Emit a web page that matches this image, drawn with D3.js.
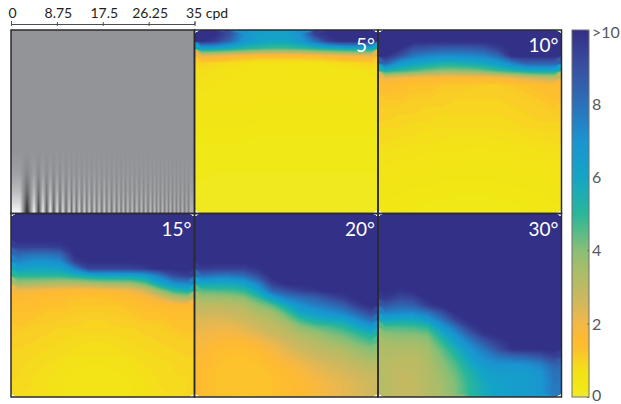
<!DOCTYPE html>
<html>
<head>
<meta charset="utf-8">
<script src="https://cdn.jsdelivr.net/npm/d3@7"></script>
<style>
body { margin: 0; background: #fff; }
text { font-family: Lato, "Noto Sans", sans-serif; }
</style>
</head>
<body>
<div id="chart"></div>
<script>
const cpdTicks = [0, 8.75, 17.5, 26.25, 35]
const cpdLabels = ['0', '8.75', '17.5', '26.25', '35 cpd']
const barTicks = [0, 2, 4, 6, 8, 10]
const barLabels = ['0', '2', '4', '6', '8', '>10']
const panelLabels = ['5°', '10°', '15°', '20°', '30°']

// colour map
const cmapValues = [0, 0.3, 0.7, 1, 1.3, 1.6, 2, 2.6, 3.5, 4, 5, 6, 7, 8, 9, 10]
const cmapColors = ['#efe92c', '#f1e814', '#f3e118', '#f8d223', '#fdc02d', '#feba32', '#f2b848', '#cfb85e', '#a6bd6a',
    '#88bf76', '#28b79a', '#14a5c6', '#1b93d0', '#2c70b9', '#394fa0', '#332e86']

// grating: bright bar positions (cpd) and their strength at the bottom edge
const gratingPeaks = [1.7, 4.4, 6.1, 7.5, 8.8, 9.9, 11.1, 12.0, 13.0, 14.0, 14.9, 15.9, 16.8, 17.8, 18.7, 19.7, 20.6,
    21.4, 22.3, 23.1, 24.0, 24.9, 25.7, 26.6, 27.4, 28.1, 28.9, 29.7, 30.4, 31.2, 31.9, 32.7, 33.5, 34.2]
const gratingAmps = [1, 1, .95, .9, .85, .8, .75, .7, .7, .65, .65, .6, .6, .6, .55, .55, .55,
    .5, .5, .5, .5, .45, .45, .45, .45, .4, .4, .4, .4, .35, .35, .35, .3, .3]
const gratingTroughs = [1, .75, .6, .55, .5, .45, .4, .35, .35, .35, .3, .3, .3, .3, .3, .3, .3,
    .25, .25, .25, .25, .25, .25, .2, .2, .2, .2, .2, .2, .2, .2, .2, .2]

const grid5 = [
    [10, 10, 9, 7, 6.4, 6.3, 6.3, 7, 9.5, 10, 10, 10, 10],
    [10, 9.5, 8.3, 6.8, 6.2, 6, 6, 6.6, 8, 9.5, 10, 10, 10],
    [6.2, 6, 5.6, 5.2, 4.9, 4.7, 4.7, 4.9, 5.2, 5.5, 5.8, 6, 6],
    [2.2, 2.1, 1.9, 1.7, 1.5, 1.5, 1.5, 1.5, 1.6, 1.8, 2, 2.1, 2.2],
    [1, .9, .8, .7, .6, .6, .6, .6, .6, .7, .8, .9, 1],
    [.8, .7, .6, .6, .5, .5, .5, .4, .4, .5, .6, .6, .7],
    [.7, .7, .6, .6, .5, .5, .5, .5, .5, .5, .6, .6, .6],
    [.7, .6, .6, .5, .5, .5, .5, .5, .5, .5, .5, .5, .6],
    [.6, .6, .5, .5, .5, .5, .5, .5, .5, .5, .5, .5, .5],
    [.5, .5, .5, .5, .5, .5, .5, .5, .5, .5, .5, .5, .5],
    [.5, .5, .5, .5, .4, .4, .4, .4, .4, .4, .4, .5, .5],
    [.5, .4, .4, .4, .4, .4, .4, .4, .4, .4, .4, .4, .4],
    [.4, .4, .4, .4, .4, .4, .4, .4, .4, .4, .4, .4, .4],
    [.4, .4, .4, .4, .35, .35, .35, .35, .35, .35, .35, .35, .35],
    [.35, .35, .35, .35, .3, .3, .3, .3, .3, .3, .3, .3, .3],
    [.3, .3, .3, .3, .3, .3, .3, .3, .3, .3, .3, .3, .3],
    [.3, .3, .3, .3, .25, .25, .25, .25, .25, .25, .25, .25, .25],
    [.25, .25, .25, .25, .25, .25, .25, .25, .25, .25, .25, .25, .25],
    [.25, .2, .2, .2, .2, .2, .2, .2, .2, .2, .2, .2, .2],
    [.2, .2, .2, .2, .2, .2, .2, .2, .2, .2, .2, .2, .2],
    [.2, .15, .15, .15, .15, .15, .15, .15, .15, .15, .15, .15, .15],
    [.15, .15, .15, .15, .15, .15, .15, .15, .15, .15, .15, .15, .15],
    [.15, .1, .1, .1, .1, .1, .1, .1, .1, .1, .1, .1, .1],
    [.1, .1, .1, .1, .1, .1, .1, .1, .1, .1, .1, .1, .1],
    [.1, .1, .1, .1, .1, .1, .1, .1, .1, .1, .1, .1, .1]
]
const grid10 = [
    [10, 10, 10, 10, 10, 10, 10, 10, 10, 10, 10, 10, 10],
    [10, 10, 10, 10, 10, 10, 10, 10, 10, 10, 10, 10, 10],
    [10, 10, 9, 8.8, 8.6, 8.6, 8.6, 8.8, 9.5, 10, 10, 10, 10],
    [10, 9, 7.8, 7.4, 7.2, 7.2, 7.3, 7.5, 8.2, 10, 10, 10, 10],
    [8.5, 6.8, 6.2, 5.8, 5.5, 5.5, 5.7, 6, 6.5, 7.5, 8.5, 8.5, 8.5],
    [5.6, 5.1, 4.7, 4.3, 4, 4, 4.1, 4.4, 4.9, 5.4, 5.8, 6, 6],
    [2.2, 2, 1.8, 1.7, 1.6, 1.6, 1.6, 1.7, 1.8, 2.1, 2.5, 2.8, 3],
    [1.5, 1.4, 1.3, 1.3, 1.2, 1.2, 1.2, 1.1, 1.1, 1.2, 1.3, 1.4, 1.5],
    [1.4, 1.3, 1.2, 1.2, 1.1, 1.1, 1, 1, 1, 1.1, 1.2, 1.3, 1.4],
    [1.2, 1.2, 1.1, 1.1, 1, 1, 1, 1, 1, 1, 1.1, 1.2, 1.3],
    [1.1, 1.1, 1, 1, 1, .95, .95, .95, .95, 1, 1, 1.1, 1.2],
    [1, 1, 1, .95, .9, .9, .9, .9, .9, .95, 1, 1, 1.1],
    [1, .95, .9, .9, .85, .85, .85, .85, .85, .9, .95, 1, 1],
    [.9, .9, .85, .8, .8, .8, .8, .8, .8, .85, .9, .9, .95],
    [.85, .8, .8, .75, .75, .7, .7, .7, .75, .75, .8, .85, .85],
    [.8, .75, .7, .7, .65, .65, .65, .65, .65, .7, .7, .75, .8],
    [.7, .65, .65, .6, .6, .6, .55, .55, .6, .6, .65, .7, .7],
    [.65, .6, .6, .55, .55, .5, .5, .5, .5, .55, .6, .6, .65],
    [.6, .55, .55, .5, .5, .5, .45, .45, .5, .5, .5, .55, .6],
    [.55, .5, .5, .45, .45, .45, .4, .4, .45, .45, .5, .5, .55],
    [.5, .45, .45, .4, .4, .4, .4, .4, .4, .4, .45, .45, .5],
    [.45, .4, .4, .4, .35, .35, .35, .35, .35, .4, .4, .4, .45],
    [.4, .4, .35, .35, .35, .3, .3, .3, .35, .35, .35, .4, .4],
    [.4, .35, .35, .3, .3, .3, .3, .3, .3, .3, .35, .35, .4],
    [.35, .35, .3, .3, .3, .3, .25, .25, .3, .3, .3, .35, .35]
]
const grid15 = [
    [10, 10, 10, 10, 10, 10, 10, 10, 10, 10, 10, 10, 10],
    [10, 10, 10, 10, 10, 10, 10, 10, 10, 10, 10, 10, 10],
    [10, 10, 10, 10, 10, 10, 10, 10, 10, 10, 10, 10, 10],
    [10, 10, 10, 10, 10, 10, 10, 10, 10, 10, 10, 10, 10],
    [9.5, 9.5, 9.5, 9.6, 10, 10, 10, 10, 10, 10, 10, 10, 10],
    [8.3, 8, 8, 8.3, 10, 10, 10, 10, 10, 10, 10, 10, 10],
    [7.4, 7, 7, 7.2, 9.5, 10, 10, 10, 10, 10, 10, 10, 10],
    [6.2, 6, 6, 6.2, 7.5, 9.3, 9.3, 9.3, 9.4, 9.6, 10, 10, 10],
    [5, 5, 5, 5, 5.3, 5.7, 6, 6, 6, 6.3, 7.5, 9, 9.5],
    [3.6, 3.5, 3.3, 3.2, 3.2, 3.4, 3.6, 3.7, 3.8, 4.5, 6, 7, 7.5],
    [2, 1.9, 1.8, 1.7, 1.6, 1.6, 1.7, 1.8, 2, 2.6, 3.8, 5, 5.5],
    [1.6, 1.5, 1.4, 1.4, 1.3, 1.3, 1.3, 1.4, 1.5, 1.7, 2.2, 3, 3.4],
    [1.4, 1.4, 1.3, 1.3, 1.2, 1.2, 1.2, 1.2, 1.3, 1.4, 1.5, 1.6, 1.7],
    [1.3, 1.3, 1.2, 1.2, 1.15, 1.1, 1.1, 1.15, 1.2, 1.3, 1.3, 1.4, 1.4],
    [1.25, 1.2, 1.15, 1.1, 1.05, 1, 1, 1.05, 1.1, 1.2, 1.2, 1.3, 1.3],
    [1.2, 1.1, 1.05, 1, 1, .95, .95, 1, 1, 1.05, 1.1, 1.2, 1.25],
    [1.1, 1.05, 1, .95, .9, .9, .9, .9, .95, 1, 1.05, 1.1, 1.2],
    [1.05, 1, .95, .9, .85, .8, .8, .85, .9, .95, 1, 1.05, 1.1],
    [1, .95, .9, .85, .8, .75, .75, .8, .85, .9, .95, 1, 1.05],
    [.95, .9, .85, .8, .7, .7, .7, .7, .8, .85, .9, .95, 1],
    [.95, .85, .8, .7, .65, .6, .6, .65, .7, .8, .85, .9, .95],
    [.9, .85, .75, .7, .6, .55, .55, .6, .65, .75, .85, .9, .95],
    [.9, .8, .7, .65, .55, .5, .5, .55, .6, .7, .8, .85, .9],
    [.85, .8, .7, .6, .55, .5, .5, .55, .6, .7, .8, .85, .9],
    [.85, .75, .7, .6, .55, .5, .5, .5, .6, .65, .75, .85, .9]
]
const grid20 = [
    [10, 10, 10, 10, 10, 10, 10, 10, 10, 10, 10, 10, 10],
    [10, 10, 10, 10, 10, 10, 10, 10, 10, 10, 10, 10, 10],
    [10, 10, 10, 10, 10, 10, 10, 10, 10, 10, 10, 10, 10],
    [10, 10, 10, 10, 10, 10, 10, 10, 10, 10, 10, 10, 10],
    [10, 10, 10, 10, 10, 10, 10, 10, 10, 10, 10, 10, 10],
    [10, 10, 10, 10, 10, 10, 10, 10, 10, 10, 10, 10, 10],
    [10, 10, 10, 10, 10, 10, 10, 10, 10, 10, 10, 10, 10],
    [9.6, 9.5, 9.5, 9.5, 9.8, 10, 10, 10, 10, 10, 10, 10, 10],
    [8, 7.7, 7.7, 8, 9, 10, 10, 10, 10, 10, 10, 10, 10],
    [6, 5.9, 5.9, 6.2, 7.5, 9.5, 10, 10, 10, 10, 10, 10, 10],
    [4.5, 4.6, 4.7, 5, 6.2, 8.3, 9, 9.5, 9.7, 10, 10, 10, 10],
    [3.6, 3.6, 3.7, 3.9, 4.8, 6.3, 7.5, 8, 8.4, 9, 9.5, 10, 10],
    [3, 3, 3.1, 3.3, 3.9, 4.5, 5.8, 7, 7.6, 8, 8.5, 9.5, 10],
    [2.7, 2.6, 2.7, 2.9, 3.3, 3.6, 4.6, 6, 6.5, 7, 7.5, 8.3, 9.2],
    [2.4, 2.3, 2.4, 2.6, 2.9, 3.2, 3.8, 4.8, 5.5, 5.8, 6, 7, 8],
    [2.2, 2.1, 2.1, 2.3, 2.6, 2.9, 3.2, 3.9, 4.3, 4.6, 5, 5.8, 6.6],
    [2, 1.9, 1.9, 2, 2.3, 2.6, 2.9, 3.3, 3.6, 4, 4.3, 4.8, 5.4],
    [1.9, 1.7, 1.6, 1.7, 1.9, 2.2, 2.6, 2.9, 3.2, 3.5, 3.8, 4.2, 4.6],
    [1.8, 1.5, 1.4, 1.4, 1.6, 1.9, 2.3, 2.6, 2.9, 3.1, 3.3, 3.7, 4],
    [1.7, 1.4, 1.3, 1.3, 1.4, 1.7, 2, 2.3, 2.6, 2.8, 3, 3.3, 3.6],
    [1.6, 1.35, 1.25, 1.25, 1.3, 1.5, 1.8, 2, 2.3, 2.5, 2.7, 3, 3.2],
    [1.5, 1.3, 1.25, 1.2, 1.25, 1.4, 1.6, 1.8, 2.1, 2.3, 2.5, 2.7, 2.9],
    [1.5, 1.3, 1.25, 1.2, 1.25, 1.3, 1.5, 1.7, 1.9, 2.1, 2.3, 2.5, 2.7],
    [1.5, 1.3, 1.25, 1.2, 1.25, 1.3, 1.45, 1.6, 1.8, 2, 2.2, 2.4, 2.6],
    [1.5, 1.3, 1.25, 1.2, 1.25, 1.3, 1.45, 1.6, 1.8, 2, 2.2, 2.4, 2.6]
]
const grid30 = [
    [10, 10, 10, 10, 10, 10, 10, 10, 10, 10, 10, 10, 10],
    [10, 10, 10, 10, 10, 10, 10, 10, 10, 10, 10, 10, 10],
    [10, 10, 10, 10, 10, 10, 10, 10, 10, 10, 10, 10, 10],
    [10, 10, 10, 10, 10, 10, 10, 10, 10, 10, 10, 10, 10],
    [10, 10, 10, 10, 10, 10, 10, 10, 10, 10, 10, 10, 10],
    [10, 10, 10, 10, 10, 10, 10, 10, 10, 10, 10, 10, 10],
    [10, 10, 10, 10, 10, 10, 10, 10, 10, 10, 10, 10, 10],
    [10, 10, 10, 10, 10, 10, 10, 10, 10, 10, 10, 10, 10],
    [10, 10, 10, 10, 10, 10, 10, 10, 10, 10, 10, 10, 10],
    [10, 10, 10, 10, 10, 10, 10, 10, 10, 10, 10, 10, 10],
    [10, 9.8, 10, 10, 10, 10, 10, 10, 10, 10, 10, 10, 10],
    [9.7, 9.2, 9.3, 10, 10, 10, 10, 10, 10, 10, 10, 10, 10],
    [8.8, 8.3, 8.5, 9.5, 10, 10, 10, 10, 10, 10, 10, 10, 10],
    [7.5, 7.3, 7.3, 7.8, 9, 10, 10, 10, 10, 10, 10, 10, 10],
    [6, 5.8, 5.8, 6.5, 7.8, 9.3, 10, 10, 10, 10, 10, 10, 10],
    [4.6, 4.6, 4.7, 5, 6.6, 8, 9.5, 10, 10, 10, 10, 10, 10],
    [3.9, 4, 4, 4.2, 5.6, 7, 8.5, 9.7, 10, 10, 10, 10, 10],
    [3.5, 3.6, 3.6, 3.8, 4.9, 6.3, 7.5, 8.7, 9.5, 10, 10, 10, 10],
    [3.3, 3.3, 3.3, 3.5, 4.4, 5.5, 6.8, 7.8, 9, 9.8, 9.9, 9.9, 10],
    [3.2, 3.1, 3.1, 3.4, 4.1, 5, 6.3, 7.2, 7.8, 8.2, 8.4, 8.8, 9.4],
    [3.1, 3, 3, 3.3, 3.9, 4.6, 5.8, 6.7, 7, 7, 7.1, 7.5, 8.5],
    [3.1, 2.9, 3, 3.2, 3.7, 4.4, 5.4, 6.2, 6.5, 6.5, 6.6, 7, 8],
    [3.1, 2.9, 2.9, 3.2, 3.6, 4.2, 5.1, 6, 6.3, 6.4, 6.5, 6.8, 7.9],
    [3.1, 2.9, 2.9, 3.2, 3.5, 4.1, 5, 5.8, 6.2, 6.4, 6.5, 6.8, 7.8],
    [3.1, 2.9, 2.9, 3.2, 3.5, 4.1, 5, 5.8, 6.2, 6.4, 6.5, 6.8, 7.8]
]
const grids = [grid5, grid10, grid15, grid20, grid30]

function draw_chart() {
    const width = 621, height = 404
    const svg = d3.select('#chart').append('svg')
        .attr('width', width).attr('height', height)
        .style('display', 'block')
    const defs = svg.append('defs')

    const panelSize = 183.5
    const colX = [11, 194.5, 378]
    const rowY = [30, 213.5]
    // grating sits in the first slot, heat maps fill the rest
    const slots = [[1, 0], [2, 0], [0, 1], [1, 1], [2, 1]]

    const color = d3.scaleLinear().domain(cmapValues).range(cmapColors).clamp(true)
    const levels = d3.range(0, 10, 0.1)

    // grating panel
    const xCpd = d3.scaleLinear().domain([0, 35]).range([colX[0], colX[0] + panelSize])
    const grey = 147
    const level = d3.scaleLinear().domain([-1, 0, 1]).range([35, grey, 250])
    const barGrad = defs.append('linearGradient').attr('id', 'grating')
        .attr('gradientUnits', 'userSpaceOnUse')
        .attr('x1', xCpd(0)).attr('x2', xCpd(35)).attr('y1', 0).attr('y2', 0)
    const stops = []
    gratingPeaks.forEach((p, i) => {
        stops.push([p, gratingAmps[i]])
        if (i < gratingTroughs.length) {
            stops.push([(p + gratingPeaks[i + 1]) / 2, -gratingTroughs[i]])
        }
    })
    barGrad.selectAll('stop').data(stops).join('stop')
        .attr('offset', d => d[0] / 35)
        .attr('stop-color', d => { const g = Math.round(level(d[1])); return `rgb(${g},${g},${g + 2})` })
    const fadeGrad = defs.append('linearGradient').attr('id', 'fade')
        .attr('x1', 0).attr('x2', 0).attr('y1', 0).attr('y2', 1)
    fadeGrad.selectAll('stop').data([[0, 1], [0.66, 1], [0.78, 0.88], [0.88, 0.6], [0.95, 0.28], [1, 0]]).join('stop')
        .attr('offset', d => d[0])
        .attr('stop-color', '#929497')
        .attr('stop-opacity', d => d[1])
    svg.append('rect').attr('x', colX[0]).attr('y', rowY[0]).attr('width', panelSize).attr('height', panelSize)
        .attr('fill', 'url(#grating)')
    svg.append('rect').attr('x', colX[0]).attr('y', rowY[0]).attr('width', panelSize).attr('height', panelSize)
        .attr('fill', 'url(#fade)')

    // heat map panels, filled contour bands of the grids
    grids.forEach((grid, k) => {
        const nRows = grid.length, nCols = grid[0].length
        const left = colX[slots[k][0]], top = rowY[slots[k][1]]
        const x = d3.scaleLinear().domain([0, nCols]).range([left, left + panelSize])
        const y = d3.scaleLinear().domain([0, nRows]).range([top, top + panelSize])
        const bands = d3.contours().size([nCols, nRows]).thresholds(levels)(grid.flat())
        const path = d3.geoPath(d3.geoTransform({
            point(px, py) { this.stream.point(x(px), y(py)) }
        }))
        const g = svg.append('g')
        g.selectAll('path').data(bands).join('path')
            .attr('d', path)
            .attr('fill', d => color(d.value + 0.05))
        svg.append('text')
            .attr('x', left + panelSize - 3)
            .attr('y', top + 22)
            .attr('text-anchor', 'end')
            .attr('fill', '#fff')
            .attr('font-size', 19)
            .text(panelLabels[k])
    })

    // panel frames
    const frames = d3.cross(colX, rowY)
    svg.selectAll('rect.frame').data(frames).join('rect')
        .attr('class', 'frame')
        .attr('x', d => d[0]).attr('y', d => d[1])
        .attr('width', panelSize).attr('height', panelSize)
        .attr('fill', 'none').attr('stroke', '#2b2a2e').attr('stroke-width', 1.5)

    // cpd axis above the grating
    const topAxis = d3.axisTop(xCpd)
        .tickValues(cpdTicks)
        .tickFormat((d, i) => cpdLabels[i])
        .tickSize(3)
        .tickPadding(3)
    const axisG = svg.append('g').attr('transform', 'translate(0,24)').call(topAxis)
    axisG.select('.domain').attr('stroke', '#4d4d4f').attr('stroke-width', 1)
    axisG.selectAll('line').attr('stroke', '#4d4d4f').attr('y2', 2).attr('y1', -2)
    axisG.selectAll('text').attr('font-size', 14).attr('fill', '#231f20')
        .attr('text-anchor', (d, i) => i === 4 ? 'start' : 'middle')
        .attr('dx', (d, i) => i === 4 ? -9 : 1)

    // colour bar
    const barLeft = 572, barWidth = 17
    const yBar = d3.scaleLinear().domain([0, 10]).range([397, 30])
    const barGradient = defs.append('linearGradient').attr('id', 'bar')
        .attr('x1', 0).attr('x2', 0).attr('y1', 1).attr('y2', 0)
    barGradient.selectAll('stop').data(cmapValues).join('stop')
        .attr('offset', d => d / 10)
        .attr('stop-color', d => color(d))
    svg.append('rect').attr('x', barLeft).attr('y', yBar(10))
        .attr('width', barWidth).attr('height', yBar(0) - yBar(10))
        .attr('fill', 'url(#bar)').attr('stroke', '#6d6e71').attr('stroke-width', 1)
    const barAxis = d3.axisRight(yBar)
        .tickValues(barTicks)
        .tickFormat((d, i) => barLabels[i])
        .tickSize(-2)
        .tickPadding(4)
    const barG = svg.append('g').attr('transform', `translate(${barLeft + barWidth},0)`).call(barAxis)
    barG.select('.domain').remove()
    barG.selectAll('line').attr('stroke', '#6d6e71')
    barG.selectAll('text').attr('font-size', 16).attr('fill', '#58595b')
        .attr('x', 3)
        .attr('dy', (d, i) => i === 5 ? '0.45em' : (i === 0 ? '0.2em' : '0.35em'))
}

draw_chart()
</script>
</body>
</html>
